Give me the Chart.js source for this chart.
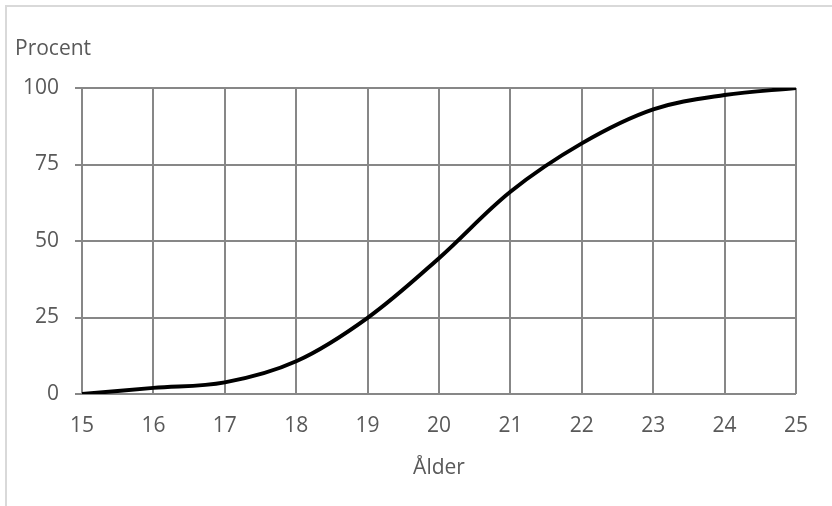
<!DOCTYPE html>
<html>
<head>
<meta charset="utf-8">
<script src="https://cdn.jsdelivr.net/npm/chart.js@4/dist/chart.umd.min.js"></script>
<style>
  html, body { margin: 0; padding: 0; background: #fff; overflow: hidden; }
  #frame { position: absolute; left: 5px; top: 5px; width: 900px; height: 600px; border: 2px solid #d9d9d9; }
  #wrap { position: absolute; left: 0; top: 0; width: 832px; height: 506px; }
</style>
</head>
<body>
<div id="frame"></div>
<div id="wrap"><canvas id="chart" width="832" height="506"></canvas></div>
<script>
// yearly values
const ages = [15, 16, 17, 18, 19, 20, 21, 22, 23, 24, 25];
const percent = [0, 2.0, 3.8, 10.7, 24.9, 44.4, 66.1, 81.9, 93.0, 97.7, 100];
const yTitle = 'Procent';
const xTitle = 'Ålder';

const textColor = '#595959';
const gridColor = '#878787';
const fontFamily = '"Open Sans", "Liberation Sans", sans-serif';

const yTitlePlugin = {
  id: 'yTitle',
  afterDraw(chart) {
    const ctx = chart.ctx;
    ctx.save();
    ctx.fillStyle = textColor;
    ctx.font = '21px ' + fontFamily;
    ctx.textAlign = 'left';
    ctx.textBaseline = 'middle';
    ctx.fillText(yTitle, 15, 49);
    ctx.restore();
  }
};

new Chart(document.getElementById('chart'), {
  type: 'line',
  data: {
    datasets: [{
      data: ages.map((a, i) => ({ x: a, y: percent[i] })),
      borderColor: '#000',
      borderWidth: 4,
      pointRadius: 0,
      fill: false,
      tension: 0.35
    }]
  },
  options: {
    responsive: false,
    animation: false,
    layout: { padding: { left: 0, top: 88, right: 36, bottom: 0 } },
    plugins: { legend: { display: false }, tooltip: { enabled: false } },
    scales: {
      x: {
        type: 'linear',
        min: 15, max: 25,
        afterFit: (s) => { s.height = 112; },
        border: { display: false },
        grid: { color: gridColor, lineWidth: 2, drawTicks: false },
        ticks: { stepSize: 1, color: textColor, padding: 19, font: { family: fontFamily, size: 21 } },
        title: { display: true, text: xTitle, color: textColor, padding: { top: 0, bottom: 25 }, font: { family: fontFamily, size: 21 } }
      },
      y: {
        min: 0, max: 100,
        afterFit: (s) => { s.width = 82; },
        border: { display: false },
        grid: { color: gridColor, lineWidth: 2, drawTicks: true, tickLength: 7 },
        ticks: { stepSize: 25, color: textColor, padding: 16, font: { family: fontFamily, size: 21 } }
      }
    }
  },
  plugins: [yTitlePlugin]
});
</script>
</body>
</html>
